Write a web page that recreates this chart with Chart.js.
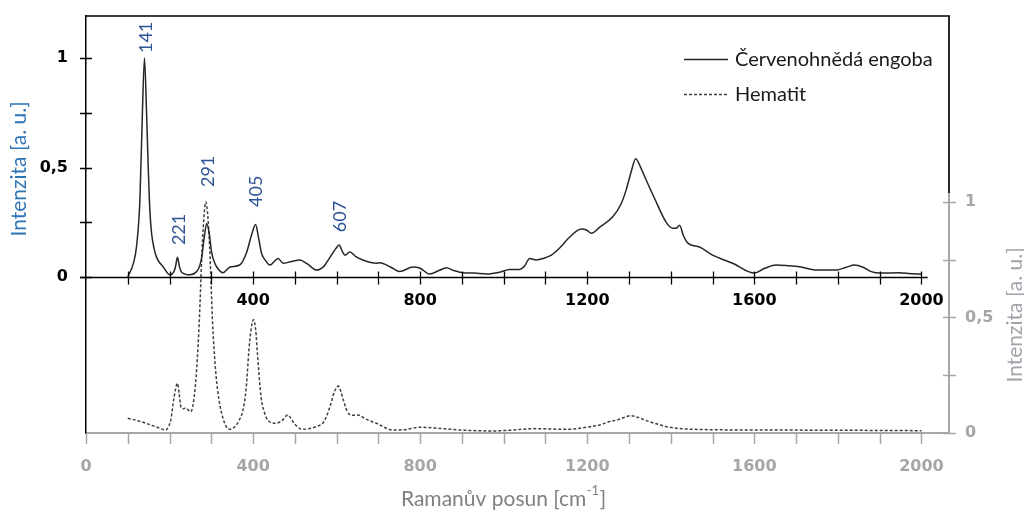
<!DOCTYPE html>
<html>
<head>
<meta charset="utf-8">
<script src="https://cdn.jsdelivr.net/npm/chart.js@4.4.0/dist/chart.umd.min.js"></script>
<style>
  html, body { margin: 0; padding: 0; background: #fff; }
</style>
</head>
<body>
<canvas id="raman" width="1024" height="511"></canvas>
<script>
// Raman spectra: engoba (top, left axis) vs. hematite reference (bottom, right axis)

const engobaX = [100, 113, 121, 129, 135, 140, 145, 149, 153, 157, 163, 169, 185, 201, 209, 214, 219, 224, 229, 249,
  265, 272, 277, 283, 289, 295, 301, 307, 313, 328, 345, 368, 384, 396, 406, 413, 420, 430, 440, 460,
  472, 490, 512, 530, 552, 570, 584, 598, 606, 613, 620, 632, 645, 663, 695, 703, 730, 751, 783, 800,
  823, 845, 863, 880, 902, 930, 959, 990, 1014, 1038, 1050, 1062, 1078, 1095, 1114, 1135, 1158, 1186, 1198, 1210,
  1230, 1261, 1280, 1293, 1305, 1316, 1328, 1341, 1361, 1389, 1405, 1413, 1421, 1430, 1441, 1469, 1500, 1548, 1600, 1625,
  1652, 1680, 1708, 1748, 1796, 1820, 1840, 1860, 1880, 1900, 1947, 1975, 2000];
const engobaY = [0.0, 0.06, 0.14, 0.35, 0.75, 1.0, 0.75, 0.5, 0.3, 0.2, 0.13, 0.09, 0.046, 0.01, 0.02, 0.045, 0.09, 0.045, 0.022, 0.01,
  0.025, 0.05, 0.09, 0.18, 0.245, 0.2, 0.11, 0.07, 0.046, 0.02, 0.046, 0.055, 0.11, 0.19, 0.24, 0.18, 0.11, 0.075, 0.055, 0.085,
  0.063, 0.07, 0.078, 0.06, 0.032, 0.05, 0.09, 0.13, 0.146, 0.12, 0.1, 0.115, 0.095, 0.078, 0.063, 0.065, 0.045, 0.025, 0.046, 0.04,
  0.014, 0.03, 0.042, 0.03, 0.02, 0.018, 0.014, 0.022, 0.035, 0.035, 0.05, 0.085, 0.078, 0.085, 0.1, 0.135, 0.183, 0.219, 0.215, 0.2,
  0.228, 0.275, 0.33, 0.397, 0.48, 0.54, 0.5, 0.443, 0.36, 0.25, 0.223, 0.223, 0.237, 0.19, 0.155, 0.137, 0.1, 0.063, 0.018, 0.04,
  0.055, 0.052, 0.047, 0.032, 0.032, 0.045, 0.055, 0.045, 0.025, 0.018, 0.02, 0.015, 0.014];

const hematitX = [100, 120, 144, 170, 191, 198, 203, 211, 219, 223, 227, 233, 239, 251, 259, 265, 271, 279, 287, 292,
  297, 303, 309, 315, 327, 343, 355, 367, 376, 383, 392, 401, 406, 411, 419, 427, 435, 455, 470, 483,
  490, 498, 518, 550, 570, 584, 595, 604, 610, 616, 628, 640, 651, 670, 695, 735, 770, 799, 847, 895,
  974, 1030, 1070, 1150, 1206, 1230, 1254, 1270, 1290, 1305, 1320, 1349, 1375, 1397, 1453, 1600, 1800, 2000];
const hematitY = [0.064, 0.055, 0.042, 0.025, 0.013, 0.03, 0.056, 0.157, 0.215, 0.17, 0.114, 0.105, 0.108, 0.092, 0.157, 0.28, 0.476, 0.835, 1.0, 0.93,
  0.763, 0.476, 0.3, 0.186, 0.07, 0.016, 0.025, 0.056, 0.1, 0.186, 0.4, 0.49, 0.45, 0.33, 0.157, 0.09, 0.056, 0.042, 0.055, 0.078,
  0.065, 0.042, 0.016, 0.027, 0.05, 0.114, 0.18, 0.203, 0.18, 0.143, 0.085, 0.077, 0.078, 0.06, 0.042, 0.013, 0.016, 0.025, 0.02, 0.013,
  0.009, 0.014, 0.019, 0.016, 0.027, 0.035, 0.05, 0.056, 0.068, 0.075, 0.068, 0.049, 0.035, 0.025, 0.016, 0.013, 0.012, 0.01];

// peak annotations: wavenumber and the height (left axis units) where the label starts
const peakPos = [141, 221, 291, 405, 607];
const peakLevel = [1.023, 0.146, 0.411, 0.32, 0.205];

// ticks
const xLabelTicks = [0, 400, 800, 1200, 1600, 2000];
const xTopLabelTicks = [400, 800, 1200, 1600, 2000];
const xMinorTicks = [0, 100, 200, 300, 400, 500, 600, 700, 800, 900, 1000, 1100, 1200, 1300, 1400, 1500, 1600, 1700, 1800, 1900, 2000];
const yLabelTicks = [0, 0.5, 1];
const yMinorTicks = [0, 0.25, 0.5, 0.75, 1];

const GRAY = '#a6a6a6';
const BLACK = '#000000';
const TICK_FONT = { family: 'DejaVu Sans', size: 16, weight: 'bold' };
const TEXT_FONT = 'Lato, "Open Sans", sans-serif';

const toPoints = (xs, ys) => xs.map((x, i) => ({ x, y: ys[i] }));
const fmt = v => String(v).replace('.', ',');
const noPad = s => { s.paddingTop = 0; s.paddingBottom = 0; s.paddingLeft = 0; s.paddingRight = 0; };

// tick marks, frame, titles, legend and peak labels
const decorations = {
  id: 'decorations',
  afterDraw(chart) {
    const { ctx, chartArea: a, scales } = chart;
    const { x, y, y2 } = scales;
    const y0 = Math.round(y.getPixelForValue(0)) + 0.5;

    ctx.save();
    ctx.lineCap = 'butt';

    // middle (engoba) x axis
    ctx.strokeStyle = BLACK;
    ctx.lineWidth = 1.3;
    ctx.beginPath();
    ctx.moveTo(a.left - 6, y0);
    ctx.lineTo(x.getPixelForValue(2015), y0);
    ctx.stroke();
    ctx.beginPath();
    xMinorTicks.forEach(v => {
      if (v === 0) return;
      const px = Math.round(x.getPixelForValue(v)) + 0.5;
      ctx.moveTo(px, y0 - 6);
      ctx.lineTo(px, y0 + 7);
    });
    // left ticks
    yMinorTicks.forEach(v => {
      const py = Math.round(y.getPixelForValue(v)) + 0.5;
      ctx.moveTo(a.left - 6, py);
      ctx.lineTo(a.left + 6, py);
    });
    ctx.stroke();

    // top frame of the engoba plot
    ctx.lineWidth = 1.5;
    ctx.beginPath();
    ctx.moveTo(a.left, a.top);
    ctx.lineTo(a.right, a.top);
    ctx.lineTo(a.right, 193);
    ctx.stroke();

    // bottom and right (hematit) ticks
    ctx.strokeStyle = GRAY;
    ctx.lineWidth = 1.5;
    ctx.beginPath();
    xMinorTicks.forEach(v => {
      const px = Math.round(x.getPixelForValue(v)) + 0.5;
      ctx.moveTo(px, a.bottom);
      ctx.lineTo(px, a.bottom + 11);
    });
    yMinorTicks.forEach(v => {
      const py = Math.round(y2.getPixelForValue(v)) + 0.5;
      ctx.moveTo(a.right - 6, py);
      ctx.lineTo(a.right + 7, py);
    });
    ctx.stroke();

    // peak labels
    ctx.fillStyle = '#2f5496';
    ctx.font = '18px ' + TEXT_FONT;
    ctx.textAlign = 'left';
    ctx.textBaseline = 'middle';
    peakPos.forEach((p, i) => {
      ctx.save();
      ctx.translate(x.getPixelForValue(p), y.getPixelForValue(peakLevel[i]));
      ctx.rotate(-Math.PI / 2);
      ctx.fillText(String(p), 0, 1);
      ctx.restore();
    });

    // axis titles
    ctx.font = '21px ' + TEXT_FONT;
    ctx.textAlign = 'center';
    const vTitle = (text, cx, cy, color) => {
      ctx.save();
      ctx.fillStyle = color;
      ctx.translate(cx, cy);
      ctx.rotate(-Math.PI / 2);
      ctx.fillText(text, 0, 0);
      ctx.restore();
    };
    vTitle('Intenzita [a. u.]', 19, 169, '#2e75b6');
    vTitle('Intenzita [a. u.]', 1015, 315, '#a0a4aa');

    // x title with superscript
    const main = 'Ramanův posun [cm';
    const sup = '-1';
    const close = ']';
    ctx.textAlign = 'left';
    ctx.font = '21px ' + TEXT_FONT;
    const wMain = ctx.measureText(main).width;
    const wClose = ctx.measureText(close).width;
    ctx.font = '13px ' + TEXT_FONT;
    const wSup = ctx.measureText(sup).width;
    const startX = 503 - (wMain + wSup + wClose) / 2;
    ctx.fillStyle = '#808080';
    ctx.font = '21px ' + TEXT_FONT;
    ctx.fillText(main, startX, 499);
    ctx.fillText(close, startX + wMain + wSup + 1, 499);
    ctx.font = '13px ' + TEXT_FONT;
    ctx.fillText(sup, startX + wMain + 0.5, 491);

    // legend
    ctx.font = '20px ' + TEXT_FONT;
    ctx.textBaseline = 'middle';
    chart.data.datasets.forEach((ds, i) => {
      const ly = [59, 94][i] + 0.5;
      ctx.strokeStyle = ds.borderColor;
      ctx.lineWidth = 1.3;
      ctx.setLineDash(ds.borderDash || []);
      ctx.beginPath();
      ctx.moveTo(684, ly);
      ctx.lineTo(728, ly);
      ctx.stroke();
      ctx.setLineDash([]);
      ctx.fillStyle = '#1a1a1a';
      ctx.fillText(ds.label, 735, ly);
    });

    ctx.restore();
  }
};

new Chart(document.getElementById('raman'), {
  type: 'line',
  data: {
    datasets: [
      {
        label: 'Červenohnědá engoba',
        data: toPoints(engobaX, engobaY),
        xAxisID: 'x',
        yAxisID: 'y',
        borderColor: '#262626',
        borderWidth: 1.5,
        cubicInterpolationMode: 'monotone',
        pointRadius: 0,
        fill: false,
      },
      {
        label: 'Hematit',
        data: toPoints(hematitX, hematitY),
        xAxisID: 'x',
        yAxisID: 'y2',
        borderColor: '#404040',
        borderWidth: 1.5,
        borderDash: [3, 2],
        cubicInterpolationMode: 'monotone',
        pointRadius: 0,
        fill: false,
      },
    ]
  },
  options: {
    responsive: false,
    animation: false,
    layout: { padding: { top: 16, left: 0, right: 0, bottom: 0 } },
    plugins: {
      legend: { display: false },
      tooltip: { enabled: false },
    },
    scales: {
      x: {
        type: 'linear',
        position: 'bottom',
        min: 0,
        max: 2066,
        grid: { display: false, drawTicks: false },
        border: { color: GRAY, width: 2 },
        ticks: { color: GRAY, font: TICK_FONT, padding: 24, maxRotation: 0, callback: v => String(v) },
        afterBuildTicks: s => { s.ticks = xLabelTicks.map(v => ({ value: v })); },
        afterFit: s => { s.height = 78; noPad(s); },
      },
      xTop: {
        type: 'linear',
        position: { y: 0 },
        min: 0,
        max: 2066,
        grid: { display: false, drawTicks: false },
        border: { display: false },
        ticks: { color: BLACK, font: TICK_FONT, padding: 14, maxRotation: 0, callback: v => String(v) },
        afterBuildTicks: s => { s.ticks = xTopLabelTicks.map(v => ({ value: v })); },
        afterFit: s => { noPad(s); },
      },
      y: {
        position: 'left',
        min: -0.712,
        max: 1.192,
        grid: { display: false, drawTicks: false },
        border: { color: BLACK, width: 1.5 },
        ticks: { color: BLACK, font: TICK_FONT, padding: 18, callback: fmt },
        afterBuildTicks: s => { s.ticks = yLabelTicks.map(v => ({ value: v })); },
        afterFit: s => { s.width = 86; noPad(s); },
      },
      y2: {
        position: 'right',
        min: 0,
        max: 1.805,
        grid: { display: false, drawTicks: false },
        border: { color: GRAY, width: 2 },
        ticks: { color: GRAY, font: TICK_FONT, padding: 16, callback: fmt },
        afterBuildTicks: s => { s.ticks = yLabelTicks.map(v => ({ value: v })); },
        afterFit: s => { s.width = 75; noPad(s); },
      },
    }
  },
  plugins: [decorations]
});
</script>
</body>
</html>
